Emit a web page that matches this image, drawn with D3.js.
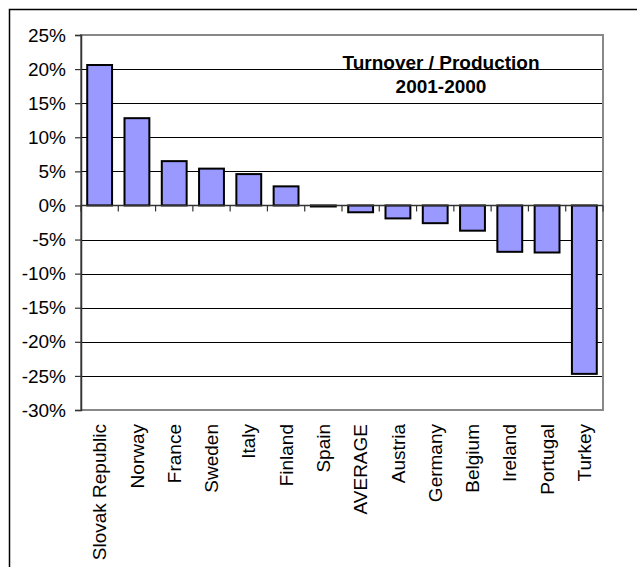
<!DOCTYPE html>
<html>
<head>
<meta charset="utf-8">
<script src="https://cdn.jsdelivr.net/npm/d3@7/dist/d3.min.js"></script>
<style>
  html, body { margin: 0; padding: 0; background: #fff; }
  svg { display: block; }
  text { font-family: "Liberation Sans", Arial, sans-serif; fill: #000; }
</style>
</head>
<body>
<svg id="chart" width="637" height="567"></svg>
<script>
const categories = ["Slovak Republic", "Norway", "France", "Sweden", "Italy", "Finland", "Spain",
  "AVERAGE", "Austria", "Germany", "Belgium", "Ireland", "Portugal", "Turkey"];
const values = [20.6, 12.8, 6.5, 5.4, 4.6, 2.8, -0.15, -1.0, -1.9, -2.6, -3.7, -6.8, -6.9, -24.7];
const yTicks = [25, 20, 15, 10, 5, 0, -5, -10, -15, -20, -25, -30];
const titleLines = ["Turnover / Production", "2001-2000"];

const svg = d3.select("#chart");
const W = 637, H = 567;
const plot = { left: 81, right: 603, top: 35, bottom: 410 };

// outer chart frame (cropped on right/bottom)
svg.append("rect")
  .attr("x", 9.5).attr("y", 9.5)
  .attr("width", W + 20).attr("height", H + 20)
  .attr("fill", "#fff").attr("stroke", "#000").attr("stroke-width", 1.5);

const x = d3.scaleBand().domain(categories)
  .range([plot.left, plot.right])
  .paddingInner(1/3).paddingOuter(1/6);
const y = d3.scaleLinear().domain([-30, 25]).range([plot.bottom, plot.top]);

// gridlines
svg.append("g").selectAll("line")
  .data(yTicks.filter(t => t !== 25 && t !== -30 && t !== 0))
  .join("line")
  .attr("x1", plot.left).attr("x2", plot.right)
  .attr("y1", d => Math.round(y(d)) + 0.5).attr("y2", d => Math.round(y(d)) + 0.5)
  .attr("stroke", "#000").attr("stroke-width", 1);

// plot area border (gray)
svg.append("rect")
  .attr("x", plot.left).attr("y", plot.top)
  .attr("width", plot.right - plot.left).attr("height", plot.bottom - plot.top)
  .attr("fill", "none").attr("stroke", "#888").attr("stroke-width", 2);

// title
svg.append("text")
  .attr("x", 441).attr("y", 69)
  .attr("text-anchor", "middle")
  .style("font-size", "19px").style("font-weight", "bold")
  .text(titleLines[0]);
svg.append("text")
  .attr("x", 441).attr("y", 93)
  .attr("text-anchor", "middle")
  .style("font-size", "19px").style("font-weight", "bold")
  .text(titleLines[1]);

// bars
svg.append("g").selectAll("rect")
  .data(categories.map((c, i) => ({ c, v: values[i] })))
  .join("rect")
  .attr("x", d => x(d.c))
  .attr("width", x.bandwidth())
  .attr("y", d => y(Math.max(0, d.v)))
  .attr("height", d => Math.abs(y(d.v) - y(0)))
  .attr("fill", "#9999FF")
  .attr("stroke", "#000").attr("stroke-width", 2);

// y axis
const yAxis = d3.axisLeft(y).tickValues(yTicks).tickSize(6).tickPadding(9)
  .tickFormat(d => d + "%");
const gy = svg.append("g").attr("transform", `translate(${plot.left},0)`).call(yAxis);
gy.select(".domain").attr("stroke", "#333").attr("stroke-width", 1.5);
gy.selectAll(".tick line").attr("stroke", "#333").attr("stroke-width", 1.2);
gy.selectAll(".tick text")
  .style("font-size", "19px")
  .attr("font-family", null);

// zero axis with tick marks at category boundaries
svg.append("line")
  .attr("x1", plot.left).attr("x2", plot.right)
  .attr("y1", y(0)).attr("y2", y(0))
  .attr("stroke", "#333").attr("stroke-width", 1.5);
const step = x.step();
svg.append("g").selectAll("line")
  .data(d3.range(categories.length + 1))
  .join("line")
  .attr("x1", i => plot.left + i * step).attr("x2", i => plot.left + i * step)
  .attr("y1", y(0)).attr("y2", y(0) + 6)
  .attr("stroke", "#333").attr("stroke-width", 1.2);

// category labels (rotated)
svg.append("g").selectAll("text")
  .data(categories)
  .join("text")
  .attr("transform", d => `translate(${x(d) + x.bandwidth() / 2},424) rotate(-90)`)
  .attr("text-anchor", "end")
  .attr("dy", "0.35em")
  .style("font-size", "19px")
  .text(d => d);
</script>
</body>
</html>
